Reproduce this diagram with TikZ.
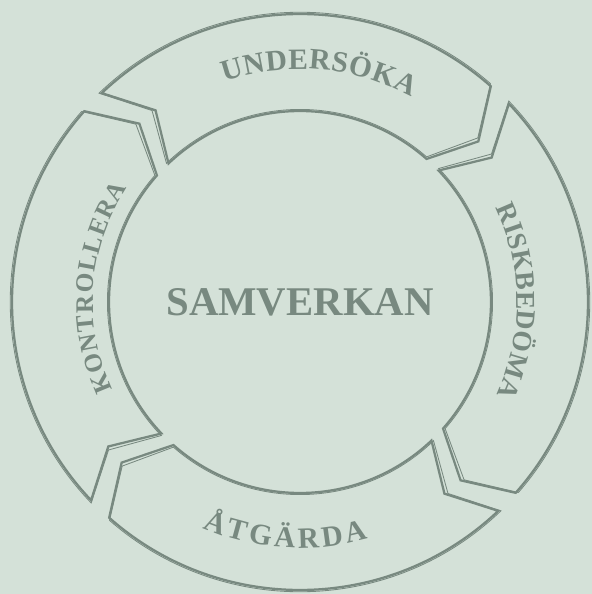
\documentclass[tikz,border=0pt]{standalone}
\usepackage{fontspec}
\setmainfont{Liberation Serif}
\usepackage{xcolor}
\usetikzlibrary{decorations.text}
\definecolor{cBack}{RGB}{212,225,216}
\definecolor{cSage}{RGB}{120,137,128}
\newcommand{\ringfont}{\bfseries\fontsize{21}{23}\selectfont}
\tikzset{
	bandline/.style  ={draw=cSage, line width=1.6pt, line join=miter},
	sketchline/.style={draw=cSage, line width=0.6pt, line join=miter},
	% lettering bent along the ring
	ringtext/.style  ={decorate, decoration={text along path, text align={fit to path}, text color=cSage}},
	coretext/.style  ={text=cSage, font=\bfseries\fontsize{29}{32}\selectfont, inner sep=0pt},
}
\begin{document}
\begin{tikzpicture}[x=0.025cm, y=0.025cm]
	\useasboundingbox (-300,-292) rectangle (292,302);
	\fill[cBack] (-300,-292) rectangle (292,302);
	% four chevron bands, clockwise
	\foreach \t in {133.5, 43.5, -46.5, -136.5} {
		\pgfmathsetmacro{\h}{\t-85}
		\draw[bandline] (\t:288) arc[start angle=\t, end angle=\h, radius=288]
			-- (\h-6.5:240) -- (\h:191) arc[start angle=\h, end angle=\t, radius=191]
			-- (\t-6.5:240) -- cycle;
		\draw[sketchline, rotate=0.4] (\t:289.8) arc[start angle=\t, end angle=\h, radius=289.8]
			-- (\h-6.2:242) -- (\h:192.6) arc[start angle=\h, end angle=\t, radius=192.6]
			-- (\t-6.2:242) -- cycle;
	}
	\node[coretext, anchor=base] (core) at (0,-13) {SAMVERKAN};
	\path[ringtext, decoration={text={|\ringfont|UNDERSÖKA}}]
		(109:233) arc[start angle=109, end angle=61.5, radius=233];
	\path[ringtext, decoration={text={|\bfseries\fontsize{19.5}{21}\selectfont|RISKBEDÖMA}}]
		(25.8:217) arc[start angle=25.8, end angle=-25.2, radius=217];
	\path[ringtext, decoration={text={|\ringfont|ÅTGÄRDA}}]
		(-113.3:246) arc[start angle=-113.3, end angle=-74, radius=246];
	\path[ringtext, decoration={text={|\bfseries\fontsize{18}{20}\selectfont|KONTROLLERA}}]
		(205:207) arc[start angle=205, end angle=146.5, radius=207];
\end{tikzpicture}
\end{document}
